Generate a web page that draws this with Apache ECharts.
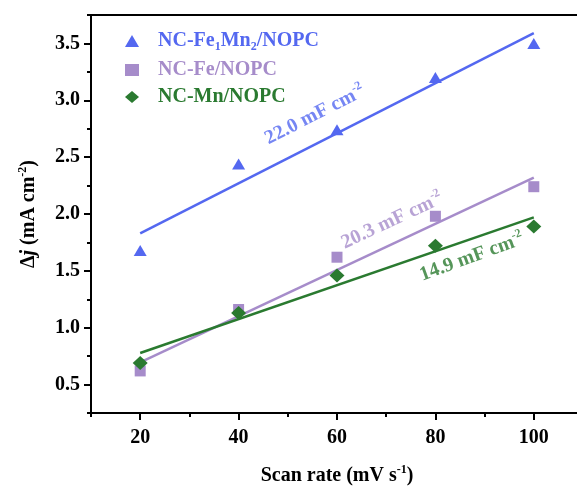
<!DOCTYPE html>
<html>
<head>
<meta charset="utf-8">
<script src="https://cdn.jsdelivr.net/npm/echarts@6/dist/echarts.min.js"></script>
<style>
  html, body { margin: 0; padding: 0; background: #fff; }
  #chart { width: 577px; height: 486px; }
</style>
</head>
<body>
<div id="chart"></div>
<script>
// Scan rates (mV s-1) and current-density differences (mA cm-2)
const scanRates = [20, 40, 60, 80, 100];
const feMnValues = [1.68, 2.44, 2.74, 3.20, 3.50];
const feValues = [0.62, 1.16, 1.62, 1.98, 2.24];
const mnValues = [0.69, 1.13, 1.46, 1.72, 1.89];

// Linear fits: double-layer capacitance (mF cm-2) is the slope x 1000
const capacitances = [22.0, 20.3, 14.9];
const fitIntercepts = [1.39, 0.29, 0.48];

// Tick labels
const xTickLabels = [20, 40, 60, 80, 100];
const yTickLabels = [0.5, 1.0, 1.5, 2.0, 2.5, 3.0, 3.5];

const seriesNames = ['NC-Fe1Mn2/NOPC', 'NC-Fe/NOPC', 'NC-Mn/NOPC'];
const seriesValues = [feMnValues, feValues, mnValues];
const colors = ['#5468f0', '#a68cca', '#2a7a30'];
const symbols = ['triangle', 'rect', 'diamond'];
const symbolSizes = [[13, 11], [11, 11], [15, 14]];

const FONT = "'Liberation Serif', 'Times New Roman', serif";

// where each slope label sits (data coordinates) and its tilt
const labelAnchors = [[55.5, 2.87], [71.2, 1.94], [87.4, 1.62]];
const labelAngles = [27, 25, 20];

const chart = echarts.init(document.getElementById('chart'), null, { renderer: 'canvas' });

const richBase = (size) => ({
  n: { fontSize: size, fontWeight: 'bold', fontFamily: FONT, lineHeight: 24, verticalAlign: 'middle' },
  i: { fontSize: size, fontWeight: 'bold', fontStyle: 'italic', fontFamily: FONT, lineHeight: 24, verticalAlign: 'middle' },
  sub: { fontSize: Math.round(size * 0.62), fontWeight: 'bold', fontFamily: FONT, lineHeight: 12, verticalAlign: 'bottom' },
  sup: { fontSize: Math.round(size * 0.62), fontWeight: 'bold', fontFamily: FONT, lineHeight: 12, verticalAlign: 'top' }
});

function legendText(name) {
  if (name === 'NC-Fe1Mn2/NOPC') {
    return '{n|NC-Fe}{sub|1}{n|Mn}{sub|2}{n|/NOPC}';
  }
  return '{n|' + name + '}';
}

const series = [];
seriesNames.forEach((name, k) => {
  const slope = capacitances[k] / 1000;
  const b = fitIntercepts[k];
  series.push({
    name: name + ' fit',
    type: 'line',
    data: [scanRates[0], scanRates[scanRates.length - 1]].map(x => [x, b + slope * x]),
    showSymbol: false,
    symbol: 'none',
    lineStyle: { color: colors[k], width: 2.5 },
    z: 2,
    silent: true
  });
});
seriesNames.forEach((name, k) => {
  series.push({
    name: name,
    type: 'scatter',
    data: scanRates.map((x, i) => [x, seriesValues[k][i]]),
    symbol: symbols[k],
    symbolSize: symbolSizes[k],
    itemStyle: { color: colors[k], opacity: 1 },
    z: 3
  });
});
// slope labels
series.push({
  name: 'slopes',
  type: 'scatter',
  symbolSize: 1,
  itemStyle: { color: 'rgba(0,0,0,0)' },
  silent: true,
  z: 4,
  data: capacitances.map((c, k) => ({
    value: labelAnchors[k],
    label: {
      show: true,
      position: 'inside',
      rotate: labelAngles[k],
      color: colors[k],
      formatter: '{n|' + c.toFixed(1) + ' mF cm}{sup|-2}',
      rich: richBase(20)
    }
  }))
});

chart.setOption({
  animation: false,
  backgroundColor: '#fff',
  grid: {
    left: 91, top: 15, right: -6, bottom: 73,
    show: true, borderColor: '#000', borderWidth: 2, backgroundColor: 'transparent',
    containLabel: false, outerBoundsMode: 'none'
  },
  legend: {
    orient: 'vertical',
    left: 120, top: 26,
    itemWidth: 14, itemHeight: 12, itemGap: 7,
    data: seriesNames.map((n, k) => ({ name: n, textStyle: { color: colors[k] } })),
    formatter: legendText,
    textStyle: { fontFamily: FONT, fontWeight: 'bold', fontSize: 20, padding: [0, 0, 0, 14], rich: richBase(20) },
    selectedMode: false
  },
  xAxis: [
    {
      type: 'value', min: 10, max: 110, interval: 10, position: 'bottom',
      axisLine: { show: true, onZero: false, lineStyle: { color: '#000', width: 2 } },
      axisTick: { show: true, customValues: xTickLabels, length: 7, lineStyle: { color: '#000', width: 2 } },
      axisLabel: { customValues: xTickLabels, color: '#000', fontFamily: FONT, fontWeight: 'bold', fontSize: 20, margin: 15 },
      splitLine: { show: false },
      name: '{n|Scan rate (mV s}{sup|-1}{n|)}',
      nameLocation: 'middle', nameGap: 51,
      nameTextStyle: { color: '#000', rich: richBase(20) }
    },
    {
      type: 'value', min: 10, max: 110, interval: 10, position: 'bottom',
      axisLine: { show: false, onZero: false },
      axisTick: { show: true, length: 4, lineStyle: { color: '#000', width: 2 } },
      axisLabel: { show: false },
      splitLine: { show: false }
    }
  ],
  yAxis: [
    {
      type: 'value', min: 0.25, max: 3.75, interval: 0.25, position: 'left',
      axisLine: { show: true, onZero: false, lineStyle: { color: '#000', width: 2 } },
      axisTick: { show: true, customValues: yTickLabels, length: 7, lineStyle: { color: '#000', width: 2 } },
      axisLabel: { customValues: yTickLabels, formatter: v => v.toFixed(1), color: '#000', fontFamily: FONT, fontWeight: 'bold', fontSize: 20, margin: 11 },
      splitLine: { show: false },
      name: '{n|Δ}{i|j}{n| (mA cm}{sup|-2}{n|)}',
      nameLocation: 'middle', nameGap: 50,
      nameTextStyle: { color: '#000', rich: richBase(20) }
    },
    {
      type: 'value', min: 0.25, max: 3.75, interval: 0.25, position: 'left',
      axisLine: { show: false, onZero: false },
      axisTick: { show: true, length: 4, lineStyle: { color: '#000', width: 2 } },
      axisLabel: { show: false },
      splitLine: { show: false }
    }
  ],
  series: series
});
</script>
</body>
</html>
